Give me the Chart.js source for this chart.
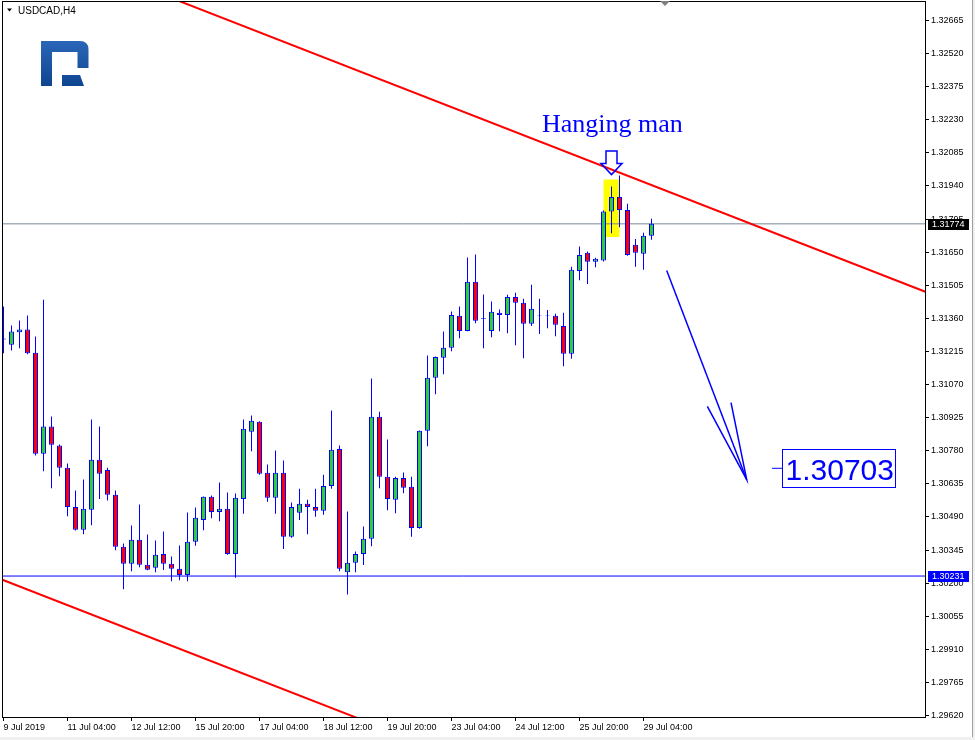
<!DOCTYPE html>
<html>
<head>
<meta charset="utf-8">
<script src="https://cdn.jsdelivr.net/npm/chart.js@4.4.1/dist/chart.umd.min.js"></script>
<style>
  html, body { margin: 0; padding: 0; background: #fff; }
  #wrap { width: 975px; height: 740px; position: relative; }
</style>
</head>
<body>
<div id="wrap"><canvas id="chart"></canvas></div>
<script>
// USDCAD H4 candles, one per 4 hours, 9 Jul 20:00 .. 29 Jul 08:00
const opens = [
  1.31267, 1.31244, 1.31299, 1.31311, 1.31209, 1.30767, 1.30886, 1.30803, 1.30705, 1.30534,
  1.30434, 1.30521, 1.30740, 1.30696, 1.30587, 1.30359, 1.30285, 1.30390, 1.30280, 1.30267,
  1.30328, 1.30285, 1.30263, 1.30236, 1.30381, 1.30477, 1.30578, 1.30512, 1.30526, 1.30328,
  1.30569, 1.30863, 1.30907, 1.30683, 1.30574, 1.30683, 1.30403, 1.30508, 1.30548, 1.30534,
  1.30517, 1.30626, 1.30788, 1.30248, 1.30289, 1.30328, 1.30394, 1.30929, 1.30666, 1.30565,
  1.30661, 1.30622, 1.30442, 1.30867, 1.31100, 1.31187, 1.31231, 1.31371, 1.31305, 1.31520,
  1.31357, 1.31305, 1.31384, 1.31375, 1.31454, 1.31428, 1.31336, 1.31370, 1.31370, 1.31371,
  1.31327, 1.31205, 1.31568, 1.31647, 1.31608, 1.31613, 1.31828, 1.31892, 1.31835, 1.31682,
  1.31643, 1.31722
];
const highs = [
  1.31412, 1.31329, 1.31351, 1.31372, 1.31280, 1.31441, 1.30930, 1.30807, 1.30724, 1.30606,
  1.30654, 1.30917, 1.30886, 1.30705, 1.30606, 1.30374, 1.30452, 1.30544, 1.30413, 1.30387,
  1.30426, 1.30317, 1.30365, 1.30509, 1.30531, 1.30580, 1.30584, 1.30641, 1.30597, 1.30593,
  1.30917, 1.30934, 1.30909, 1.30720, 1.30781, 1.30737, 1.30553, 1.30613, 1.30565, 1.30613,
  1.30675, 1.30956, 1.30803, 1.30514, 1.30339, 1.30448, 1.31096, 1.30951, 1.30829, 1.30666,
  1.30685, 1.30666, 1.30869, 1.31197, 1.31193, 1.31302, 1.31390, 1.31412, 1.31627, 1.31640,
  1.31464, 1.31434, 1.31399, 1.31463, 1.31472, 1.31446, 1.31507, 1.31446, 1.31397, 1.31380,
  1.31384, 1.31586, 1.31675, 1.31653, 1.31625, 1.31832, 1.31938, 1.31986, 1.31862, 1.31708,
  1.31735, 1.31796
];
const lows = [
  1.31207, 1.31219, 1.31229, 1.31203, 1.30759, 1.30690, 1.30616, 1.30668, 1.30493, 1.30431,
  1.30414, 1.30454, 1.30568, 1.30562, 1.30344, 1.30173, 1.30252, 1.30270, 1.30256, 1.30248,
  1.30257, 1.30208, 1.30213, 1.30208, 1.30364, 1.30432, 1.30484, 1.30471, 1.30324, 1.30223,
  1.30504, 1.30778, 1.30675, 1.30556, 1.30504, 1.30350, 1.30399, 1.30477, 1.30414, 1.30491,
  1.30499, 1.30613, 1.30252, 1.30150, 1.30248, 1.30279, 1.30362, 1.30616, 1.30519, 1.30506,
  1.30594, 1.30403, 1.30438, 1.30800, 1.31028, 1.31115, 1.31216, 1.31273, 1.31303, 1.31339,
  1.31229, 1.31277, 1.31304, 1.31295, 1.31242, 1.31185, 1.31327, 1.31291, 1.31317, 1.31282,
  1.31150, 1.31183, 1.31527, 1.31510, 1.31584, 1.31609, 1.31733, 1.31759, 1.31634, 1.31586,
  1.31573, 1.31704
];
const closes = [
  1.31272, 1.31302, 1.31311, 1.31207, 1.30767, 1.30886, 1.30806, 1.30705, 1.30534, 1.30434,
  1.30526, 1.30740, 1.30679, 1.30587, 1.30359, 1.30285, 1.30390, 1.30280, 1.30258, 1.30324,
  1.30285, 1.30263, 1.30236, 1.30381, 1.30486, 1.30578, 1.30512, 1.30526, 1.30328, 1.30574,
  1.30876, 1.30911, 1.30679, 1.30574, 1.30683, 1.30403, 1.30534, 1.30548, 1.30534, 1.30517,
  1.30626, 1.30784, 1.30263, 1.30289, 1.30328, 1.30394, 1.30929, 1.30666, 1.30569, 1.30661,
  1.30618, 1.30442, 1.30867, 1.31100, 1.31191, 1.31231, 1.31375, 1.31305, 1.31520, 1.31349,
  1.31360, 1.31389, 1.31375, 1.31454, 1.31428, 1.31336, 1.31402, 1.31373, 1.31372, 1.31332,
  1.31205, 1.31573, 1.31638, 1.31608, 1.31621, 1.31828, 1.31892, 1.31835, 1.31638, 1.31647,
  1.31722, 1.31774
];

// time axis: candle index of each date label
const dateTicks = [0, 8, 16, 24, 32, 40, 48, 56, 64, 72, 80];
const dateLabels = ['9 Jul 2019', '11 Jul 04:00', '12 Jul 12:00', '15 Jul 20:00', '17 Jul 04:00',
  '18 Jul 12:00', '19 Jul 20:00', '23 Jul 04:00', '24 Jul 12:00', '25 Jul 20:00', '29 Jul 04:00'];

const priceTicks = [1.29620, 1.29765, 1.29910, 1.30055, 1.30200, 1.30345, 1.30490, 1.30635,
  1.30780, 1.30925, 1.31070, 1.31215, 1.31360, 1.31505, 1.31650, 1.31795, 1.31940, 1.32085,
  1.32230, 1.32375, 1.32520, 1.32665];
const priceMin = 1.296134;
const priceMax = 1.327504;

// chart objects
const bidPrice = 1.31774;
const supportPrice = 1.30231;
const targetPrice = 1.30703;
const upperTrend = [{x: 20, y: 1.32777}, {x: 116, y: 1.31466}];
const lowerTrend = [{x: -2, y: 1.30240}, {x: 50, y: 1.29530}];
const arrowShaft = [{x: 82.9, y: 1.31570}, {x: 92.9, y: 1.30653}];
const arrowHead = [{x: 87.98, y: 1.30974}, {x: 92.9, y: 1.30653}, {x: 90.94, y: 1.30991}];
const targetTick = [{x: 96.06, y: targetPrice}, {x: 97.35, y: targetPrice}];
const patternBox = {x: 76, low: 1.31716, high: 1.31968};
const patternArrow = {x: 76, y: 1.31990};
const patternText = {x: 67.3, y: 1.32176, text: 'Hanging man'};

const idx = opens.map((_, i) => i);
const wickData = idx.map(i => ({x: i, y: [lows[i], highs[i]]}));
const bodyData = idx.map(i => ({x: i, y: [opens[i], closes[i]]}));
const bodyColors = idx.map(i => closes[i] >= opens[i] ? '#32cd32' : '#ff0000');

const AXIS_FONT = {family: 'Liberation Sans, Arial, sans-serif', size: 9};

const decor = {
  id: 'decor',
  beforeDraw(chart) {
    const ctx = chart.ctx;
    ctx.save();
    ctx.fillStyle = '#ffffff';
    ctx.fillRect(0, 0, chart.width, chart.height);
    ctx.fillStyle = '#f0f0f0';
    ctx.fillRect(973, 0, 2, chart.height);
    ctx.fillRect(0, 737, chart.width, 3);
    ctx.fillStyle = '#a0a0a0';
    ctx.fillRect(972, 0, 1, 737);
    ctx.restore();
  },
  afterDraw(chart) {
    const ctx = chart.ctx;
    const xs = chart.scales.x, ys = chart.scales.y;
    const a = chart.chartArea;
    ctx.save();

    // frame
    ctx.strokeStyle = '#000';
    ctx.lineWidth = 1;
    ctx.strokeRect(a.left + 0.5, a.top + 0.5, a.right - a.left, a.bottom - a.top);

    // symbol title
    ctx.fillStyle = '#000';
    ctx.beginPath();
    ctx.moveTo(7, 8.5); ctx.lineTo(12, 8.5); ctx.lineTo(9.5, 11.5); ctx.closePath();
    ctx.fill();
    ctx.font = '10px Liberation Sans, Arial, sans-serif';
    ctx.textBaseline = 'alphabetic';
    ctx.textAlign = 'left';
    ctx.fillText('USDCAD,H4', 18, 13.5);

    // shift marker
    ctx.fillStyle = '#808080';
    ctx.beginPath();
    ctx.moveTo(660, 1); ctx.lineTo(670, 1); ctx.lineTo(665, 6); ctx.closePath();
    ctx.fill();

    // logo
    const g = ctx.createLinearGradient(0, 41, 0, 86);
    g.addColorStop(0, '#2a66b8');
    g.addColorStop(1, '#0f4590');
    ctx.fillStyle = g;
    ctx.beginPath();
    ctx.moveTo(41, 86); ctx.lineTo(41, 41); ctx.lineTo(80, 41);
    ctx.quadraticCurveTo(88.5, 41, 88.5, 49.5);
    ctx.lineTo(88.5, 68); ctx.lineTo(77.5, 68); ctx.lineTo(77.5, 52); ctx.lineTo(52, 52);
    ctx.lineTo(52, 86); ctx.closePath();
    ctx.fill();
    ctx.beginPath();
    ctx.moveTo(62, 75); ctx.lineTo(80, 75); ctx.lineTo(84, 86); ctx.lineTo(62, 86); ctx.closePath();
    ctx.fill();

    // price boxes on the axis
    const box = (v, bg) => {
      const y = ys.getPixelForValue(v);
      ctx.fillStyle = bg;
      ctx.fillRect(928, Math.round(y) - 5, 41, 11);
      ctx.fillStyle = '#fff';
      ctx.font = '9px Liberation Sans, Arial, sans-serif';
      ctx.textBaseline = 'middle';
      ctx.fillText(v.toFixed(5), 932, Math.round(y) + 0.5);
    };
    box(bidPrice, '#000000');
    box(supportPrice, '#0000ff');

    // pattern label
    ctx.fillStyle = '#0000ff';
    ctx.font = '26px Liberation Serif, Times New Roman, serif';
    ctx.textBaseline = 'alphabetic';
    ctx.fillText(patternText.text, xs.getPixelForValue(patternText.x), ys.getPixelForValue(patternText.y));

    // hollow down arrow
    const tx = xs.getPixelForValue(patternArrow.x), ty = ys.getPixelForValue(patternArrow.y);
    ctx.strokeStyle = '#0000ff';
    ctx.lineWidth = 1.5;
    ctx.beginPath();
    ctx.moveTo(tx - 5.5, ty - 23.5); ctx.lineTo(tx + 5.5, ty - 23.5); ctx.lineTo(tx + 5.5, ty - 11);
    ctx.lineTo(tx + 10.5, ty - 11); ctx.lineTo(tx, ty); ctx.lineTo(tx - 10.5, ty - 11);
    ctx.lineTo(tx - 5.5, ty - 11); ctx.closePath();
    ctx.stroke();

    // target price label
    const bx = Math.round(xs.getPixelForValue(targetTick[1].x)) + 0.5;
    const by = Math.round(ys.getPixelForValue(targetPrice));
    ctx.fillStyle = '#fff';
    ctx.fillRect(bx, by - 19, 113, 38);
    ctx.lineWidth = 1;
    ctx.strokeRect(bx, by - 18.5, 113, 38);
    ctx.fillStyle = '#0000ff';
    ctx.font = '30px Liberation Sans, Arial, sans-serif';
    ctx.textBaseline = 'alphabetic';
    ctx.fillText(targetPrice.toFixed(5), bx + 3, by + 12);

    ctx.restore();
  }
};

const lineDs = (data, color, width, order) => ({
  type: 'line', data, borderColor: color, borderWidth: width, pointRadius: 0,
  fill: false, tension: 0, order
});

new Chart(document.getElementById('chart'), {
  type: 'bar',
  data: {
    datasets: [
      {data: [{x: patternBox.x, y: [patternBox.low, patternBox.high]}], backgroundColor: '#ffff00',
        barThickness: 16, grouped: false, inflateAmount: 0, borderWidth: 0, order: 10},
      lineDs([{x: -2, y: bidPrice}, {x: 120, y: bidPrice}], '#778899', 1, 9),
      lineDs([{x: -2, y: supportPrice}, {x: 120, y: supportPrice}], '#0000ff', 1, 9),
      {data: wickData, backgroundColor: '#0000ff', barThickness: 1, grouped: false,
        inflateAmount: 0, borderWidth: 0, order: 6},
      {data: bodyData, backgroundColor: bodyColors, borderColor: '#0000ff', borderWidth: 1,
        borderSkipped: false, barThickness: 5, grouped: false, inflateAmount: 0, order: 5},
      lineDs(upperTrend, '#ff0000', 2, 3),
      lineDs(lowerTrend, '#ff0000', 2, 3),
      lineDs(arrowShaft, '#0000ff', 1.5, 2),
      lineDs(arrowHead, '#0000ff', 1.5, 2),
      lineDs(targetTick, '#0000ff', 1, 2)
    ]
  },
  options: {
    responsive: true,
    maintainAspectRatio: false,
    devicePixelRatio: 1,
    animation: false,
    events: [],
    layout: {padding: {left: 2, top: 1, right: 0, bottom: 0}},
    plugins: {legend: {display: false}, tooltip: {enabled: false}},
    scales: {
      x: {
        type: 'linear', min: -0.1875, max: 115.1875, offset: false,
        afterBuildTicks: s => { s.ticks = dateTicks.map(v => ({value: v})); },
        afterFit: s => { s.height = 23; s.paddingLeft = 0; s.paddingRight = 0; },
        grid: {drawOnChartArea: false, drawTicks: true, tickLength: 4, color: '#000', offset: false},
        border: {display: true, color: '#000'},
        ticks: {
          align: 'start', padding: 1, maxRotation: 0, autoSkip: false, color: '#000', font: AXIS_FONT,
          callback: v => dateLabels[dateTicks.indexOf(v)]
        }
      },
      y: {
        type: 'linear', position: 'right', min: priceMin, max: priceMax, beginAtZero: false,
        afterBuildTicks: s => { s.ticks = priceTicks.map(v => ({value: v})); },
        afterFit: s => { s.width = 50; s.paddingTop = 0; s.paddingBottom = 0; },
        grid: {drawOnChartArea: false, drawTicks: true, tickLength: 4, color: '#000'},
        border: {display: true, color: '#000'},
        ticks: {padding: 2, autoSkip: false, color: '#000', font: AXIS_FONT,
          callback: v => v.toFixed(5)}
      }
    }
  },
  plugins: [decor]
});
</script>
</body>
</html>
